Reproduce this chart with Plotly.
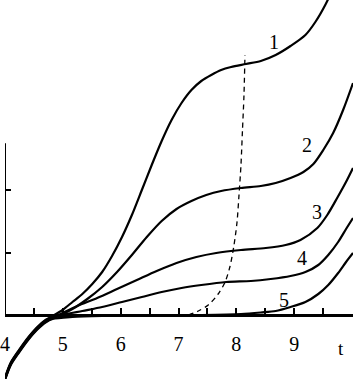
import plotly.graph_objects as go

# common start of all curves (bundle below the axis)
start_x = [4.0, 4.1, 4.25, 4.4, 4.55, 4.7]
start_y = [-1.02, -0.78, -0.57, -0.38, -0.22, -0.1]

c1_x = [4.823, 4.994, 5.166, 5.337, 5.509, 5.680, 5.851, 6.023, 6.194, 6.366, 6.537, 6.709, 6.880, 7.052, 7.223, 7.394, 7.566, 7.737, 7.909, 8.166, 8.423, 8.680, 8.937, 9.194, 9.366, 9.537, 9.71]
c1_y = [-0.016, 0.08, 0.208, 0.336, 0.496, 0.688, 0.944, 1.248, 1.6, 2.0, 2.4, 2.784, 3.12, 3.392, 3.6, 3.744, 3.84, 3.92, 3.968, 4.016, 4.064, 4.16, 4.304, 4.48, 4.688, 4.96, 5.3]

c2_x = [4.909, 5.166, 5.423, 5.680, 5.937, 6.194, 6.452, 6.709, 6.966, 7.223, 7.480, 7.737, 8.080, 8.423, 8.680, 8.937, 9.160, 9.332, 9.503, 9.674, 9.846, 10.017]
c2_y = [-0.016, 0.096, 0.256, 0.448, 0.688, 0.96, 1.248, 1.504, 1.696, 1.824, 1.92, 1.984, 2.032, 2.064, 2.112, 2.192, 2.288, 2.416, 2.64, 2.912, 3.28, 3.712]

c3_x = [4.960, 5.251, 5.594, 5.937, 6.280, 6.623, 6.966, 7.309, 7.652, 8.080, 8.509, 8.852, 9.109, 9.400, 9.572, 9.743, 9.914, 10.017]
c3_y = [0.016, 0.144, 0.272, 0.416, 0.56, 0.704, 0.832, 0.928, 0.992, 1.04, 1.072, 1.12, 1.2, 1.392, 1.6, 1.872, 2.16, 2.352]

c4_x = [4.994, 5.337, 5.680, 6.023, 6.366, 6.709, 7.052, 7.394, 7.823, 8.252, 8.594, 8.937, 9.194, 9.417, 9.589, 9.760, 9.897, 10.017]
c4_y = [0.0, 0.064, 0.128, 0.208, 0.288, 0.368, 0.432, 0.48, 0.528, 0.544, 0.576, 0.624, 0.688, 0.8, 0.96, 1.168, 1.376, 1.552]

c5_x = [4.823, 5.166, 5.680, 6.537, 7.394, 8.080, 8.423, 8.680, 8.937, 9.194, 9.417, 9.589, 9.760, 9.897, 10.017]
c5_y = [-0.064, -0.032, -0.016, -0.008, 0.0, 0.016, 0.04, 0.064, 0.128, 0.208, 0.336, 0.48, 0.672, 0.848, 0.992]

dash_x = [7.172, 7.343, 7.514, 7.686, 7.806, 7.892, 7.960, 8.012, 8.046, 8.080, 8.106, 8.132, 8.149]
dash_y = [0.0, 0.064, 0.16, 0.336, 0.528, 0.784, 1.12, 1.488, 1.92, 2.4, 2.96, 3.52, 4.16]

curve_labels = ["1", "2", "3", "4", "5"]
label_x = [8.65, 9.23, 9.40, 9.14, 8.82]
label_y = [4.37, 2.72, 1.65, 0.91, 0.24]

x_ticks = [4, 4.5, 5, 5.5, 6, 6.5, 7, 7.5, 8, 8.5, 9, 9.5, 10]
x_ticktext = ["4", "", "5", "", "6", "", "7", "", "8", "", "9", "", ""]
y_ticks = [1, 2]

SERIF = "Liberation Serif, Times New Roman, DejaVu Serif, serif"

fig = go.Figure()
offsets = [0.02, 0.01, 0.0, -0.01, -0.02]
for (cx, cy), off in zip([(c1_x, c1_y), (c2_x, c2_y), (c3_x, c3_y), (c4_x, c4_y), (c5_x, c5_y)], offsets):
    xs = start_x + cx
    ys = [v + off for v in start_y] + cy
    fig.add_trace(go.Scatter(x=xs, y=ys, mode="lines",
                             line=dict(color="black", width=2.2, shape="spline", smoothing=0.8),
                             showlegend=False, hoverinfo="skip"))

fig.add_trace(go.Scatter(x=dash_x, y=dash_y, mode="lines",
                         line=dict(color="black", width=1.3, dash="5px,4px", shape="spline", smoothing=0.8),
                         showlegend=False, hoverinfo="skip"))

for t, lx, ly in zip(curve_labels, label_x, label_y):
    fig.add_annotation(x=lx, y=ly, text=t, showarrow=False,
                       font=dict(family=SERIF, size=20, color="black"))

fig.add_annotation(xref="paper", yref="paper", x=0.966, y=0.08, text="t", showarrow=False,
                   xanchor="center", yanchor="middle",
                   font=dict(family=SERIF, size=19, color="black"))

fig.add_shape(type="line", x0=4, x1=4, y0=0, y1=2.75, xref="x", yref="y",
              line=dict(color="black", width=2))

y_lo, y_hi = -1.024, 5.04
fig.update_layout(
    width=353, height=379,
    margin=dict(l=2, r=0, t=0, b=0),
    paper_bgcolor="white", plot_bgcolor="white",
    font=dict(family=SERIF, size=20, color="black"),
    xaxis=dict(range=[4, 10.017], tickvals=x_ticks, ticktext=x_ticktext,
               ticks="inside", ticklen=6, tickwidth=1.5, tickcolor="black",
               showline=True, linewidth=2.5, linecolor="black",
               showgrid=False, zeroline=False,
               anchor="free", position=(0 - y_lo) / (y_hi - y_lo),
               ticklabelstandoff=10, ticklabeloverflow="allow",
               tickfont=dict(family=SERIF, size=20, color="black")),
    yaxis=dict(range=[y_lo, y_hi], tickvals=y_ticks, ticks="inside", ticklen=6,
               tickwidth=1.5, tickcolor="black", showticklabels=False,
               showline=False, showgrid=False, zeroline=False),
)

fig.write_html("out.html", config={"displayModeBar": False},
               post_script="document.body.style.margin='0';document.body.style.padding='0';")
